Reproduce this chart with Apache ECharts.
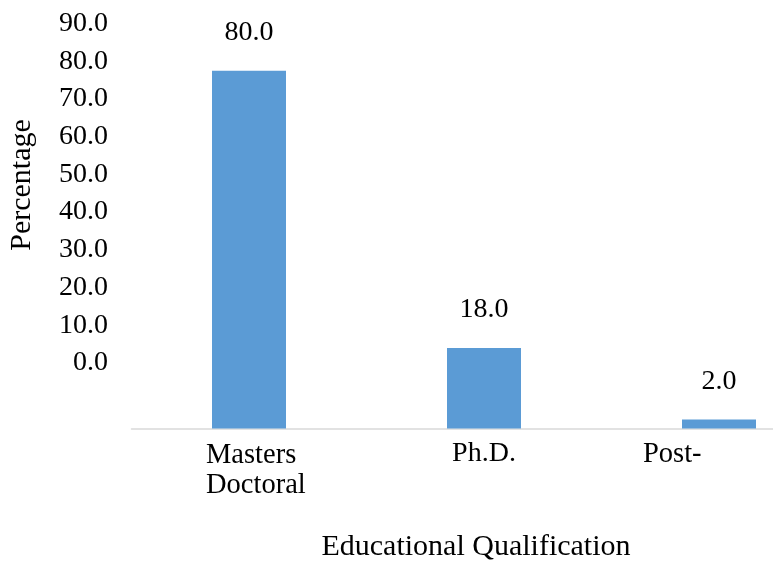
<!DOCTYPE html>
<html>
<head>
<meta charset="utf-8">
<script src="https://cdn.jsdelivr.net/npm/echarts@6/dist/echarts.min.js"></script>
<style>
  html, body { margin: 0; padding: 0; background: #ffffff; }
  #chart { width: 773px; height: 564px; }
</style>
</head>
<body>
<div id="chart"></div>
<script>
// Share of respondents by educational qualification
const categories = ['Masters\nDoctoral', 'Ph.D.', 'Post-'];
const percentages = [80.0, 18.0, 2.0];
const tickValues = [0, 10, 20, 30, 40, 50, 60, 70, 80, 90];
const yAxisTitle = 'Percentage';
const xAxisTitle = 'Educational Qualification';

const FONT = "'Liberation Serif', 'Times New Roman', serif";
const TEXT = '#000000';
const BAR = '#5B9BD5';

const chart = echarts.init(document.getElementById('chart'), null, { renderer: 'canvas' });

// per-category label placement styles
const labelRich = {
  c0: { fontFamily: FONT, fontSize: 28.5, color: TEXT, lineHeight: 30, width: 86, align: 'left' },
  c1: { fontFamily: FONT, fontSize: 28, color: TEXT, lineHeight: 26 },
  c2: { fontFamily: FONT, fontSize: 28.5, color: TEXT, lineHeight: 28, width: 152, align: 'left' }
};

const option = {
  backgroundColor: '#ffffff',
  animation: false,
  grid: [
    // bars (the plot runs past the right edge of the canvas)
    { left: 131.5, top: 26, width: 705, height: 402.5, containLabel: false, outerBoundsMode: 'none' },
    // tick label column
    { left: 120, top: 23.5, width: 1, height: 339.5, containLabel: false, outerBoundsMode: 'none' }
  ],
  xAxis: [
    {
      type: 'category',
      gridIndex: 0,
      data: categories,
      axisLine: { show: true, lineStyle: { color: '#d9d9d9', width: 1.5 } },
      axisTick: { show: false },
      splitLine: { show: false },
      axisLabel: {
        interval: 0,
        margin: 12,
        fontFamily: FONT,
        fontSize: 28,
        color: TEXT,
        formatter: function (value, idx) {
          return value.split('\n').map(function (line) {
            return '{c' + idx + '|' + line + '}';
          }).join('\n');
        },
        rich: labelRich
      }
    },
    { type: 'value', gridIndex: 1, show: false }
  ],
  yAxis: [
    {
      type: 'value',
      gridIndex: 0,
      min: tickValues[0],
      max: tickValues[tickValues.length - 1],
      show: false,
      splitLine: { show: false }
    },
    {
      type: 'value',
      gridIndex: 1,
      min: tickValues[0],
      max: tickValues[tickValues.length - 1],
      interval: tickValues[1] - tickValues[0],
      axisLine: { show: false },
      axisTick: { show: false },
      splitLine: { show: false },
      axisLabel: {
        margin: 12,
        fontFamily: FONT,
        fontSize: 28,
        color: TEXT,
        formatter: function (v) { return v.toFixed(1); }
      }
    }
  ],
  series: [
    {
      type: 'bar',
      xAxisIndex: 0,
      yAxisIndex: 0,
      data: percentages,
      barWidth: 74,
      itemStyle: { color: BAR },
      label: {
        show: true,
        position: 'top',
        distance: 24,
        fontFamily: FONT,
        fontSize: 28,
        color: TEXT,
        formatter: function (p) { return p.value.toFixed(1); }
      }
    }
  ],
  graphic: [
    {
      type: 'text',
      x: 22,
      y: 185,
      rotation: Math.PI / 2,
      style: {
        text: yAxisTitle,
        fontFamily: FONT,
        fontSize: 30,
        fill: TEXT,
        align: 'center',
        verticalAlign: 'middle'
      }
    },
    {
      type: 'text',
      x: 476,
      y: 547,
      style: {
        text: xAxisTitle,
        fontFamily: FONT,
        fontSize: 30,
        fill: TEXT,
        align: 'center',
        verticalAlign: 'middle'
      }
    }
  ]
};

chart.setOption(option);
</script>
</body>
</html>
